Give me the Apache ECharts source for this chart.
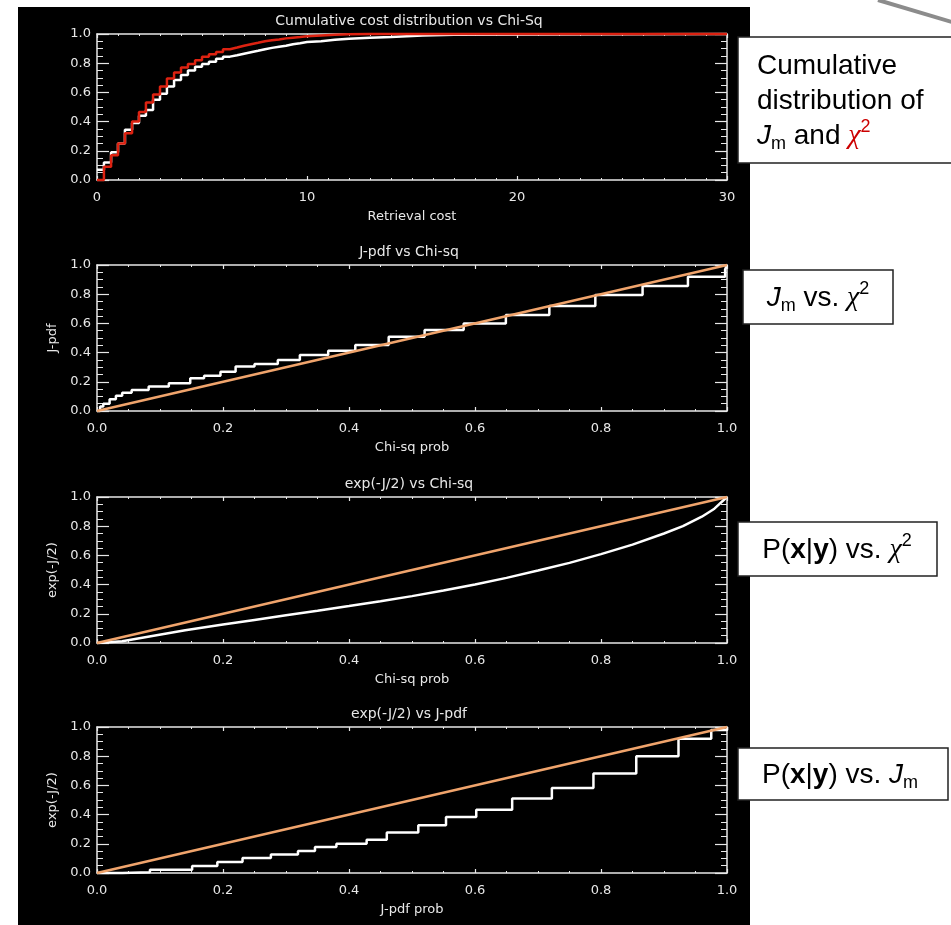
<!DOCTYPE html>
<html>
<head>
<meta charset="utf-8">
<script src="https://cdn.jsdelivr.net/npm/echarts/dist/echarts.min.js"></script>
<style>
html, body { margin: 0; padding: 0; background: #fff; }
#main { width: 951px; height: 925px; }
</style>
</head>
<body>
<div id="main"></div>
<script>
// panel 1: cumulative distributions vs retrieval cost
var costBins = [0, 0.33, 0.67, 1, 1.33, 1.67, 2, 2.33, 2.67, 3, 3.33, 3.67, 4, 4.33, 4.67, 5, 5.33, 5.67, 6, 6.33, 6.67, 7, 7.33, 7.67, 8, 8.33, 8.67, 9, 9.33, 9.67, 10, 10.67, 11.33, 12, 13, 14, 15.5, 17, 30];
var chiCum = [0, 0.09, 0.17, 0.25, 0.32, 0.40, 0.465, 0.53, 0.585, 0.64, 0.695, 0.737, 0.77, 0.795, 0.82, 0.845, 0.862, 0.877, 0.895, 0.907, 0.92, 0.93, 0.94, 0.95, 0.957, 0.963, 0.97, 0.975, 0.98, 0.985, 0.99, 0.995, 0.998, 1, 1, 1, 1, 1, 1];
var jCum = [0.07, 0.12, 0.19, 0.25, 0.345, 0.39, 0.44, 0.48, 0.55, 0.59, 0.64, 0.685, 0.72, 0.75, 0.775, 0.795, 0.81, 0.83, 0.845, 0.855, 0.865, 0.875, 0.885, 0.895, 0.905, 0.913, 0.92, 0.93, 0.937, 0.945, 0.95, 0.96, 0.968, 0.975, 0.98, 0.99, 0.995, 1, 1];

// panel 2: J-pdf vs Chi-sq
var chiProbA = [0, 0.005, 0.01, 0.02, 0.03, 0.04, 0.055, 0.082, 0.114, 0.148, 0.17, 0.196, 0.22, 0.25, 0.287, 0.322, 0.367, 0.41, 0.463, 0.52, 0.582, 0.649, 0.718, 0.791, 0.866, 0.938, 0.997, 1.0];
var jPdfA = [0, 0.03, 0.05, 0.08, 0.105, 0.125, 0.144, 0.167, 0.19, 0.224, 0.242, 0.269, 0.304, 0.322, 0.35, 0.384, 0.413, 0.452, 0.509, 0.555, 0.60, 0.657, 0.719, 0.795, 0.856, 0.92, 0.97, 1.0];

// panel 3: exp(-J/2) vs Chi-sq
var chiProbB = [0, 0.04, 0.09, 0.14, 0.2, 0.25, 0.3, 0.35, 0.4, 0.45, 0.5, 0.55, 0.6, 0.65, 0.7, 0.75, 0.8, 0.85, 0.9, 0.93, 0.96, 0.98, 1.0];
var expJB = [0, 0.012, 0.05, 0.087, 0.126, 0.158, 0.19, 0.221, 0.253, 0.286, 0.321, 0.359, 0.401, 0.446, 0.496, 0.549, 0.609, 0.674, 0.75, 0.80, 0.865, 0.92, 1.0];

// panel 4: exp(-J/2) vs J-pdf
var jPdfProb = [0, 0.04, 0.084, 0.151, 0.191, 0.231, 0.276, 0.319, 0.346, 0.38, 0.428, 0.46, 0.51, 0.554, 0.602, 0.659, 0.722, 0.788, 0.856, 0.923, 0.975, 1.0];
var expJC = [0, 0.005, 0.023, 0.048, 0.075, 0.103, 0.126, 0.151, 0.178, 0.2, 0.228, 0.278, 0.327, 0.384, 0.434, 0.51, 0.582, 0.681, 0.8, 0.92, 0.98, 1.0];

// 1:1 reference line
var diagX = [0, 1];
var diagY = [0, 1];

var titles = ['Cumulative cost distribution vs Chi-Sq', 'J-pdf vs Chi-sq', 'exp(-J/2) vs Chi-sq', 'exp(-J/2) vs J-pdf'];
var xNames = ['Retrieval cost', 'Chi-sq prob', 'Chi-sq prob', 'J-pdf prob'];
var yNames = ['', 'J-pdf', 'exp(-J/2)', 'exp(-J/2)'];

var gridTops = [34, 265, 497, 727];
var gridLeft = 97, gridW = 630, gridH = 146;
var fg = '#e8e8e8';
var font = 'DejaVu Sans';

function zip(xs, ys) {
    var out = [];
    for (var i = 0; i < xs.length; i++) out.push([xs[i], ys[i]]);
    return out;
}

function xAxisPair(gi, max, interval, minor, name, fmt) {
    var base = {
        gridIndex: gi, type: 'value', min: 0, max: max, interval: interval,
        axisLine: {show: true, onZero: false, lineStyle: {color: fg, width: 1.5}},
        axisTick: {show: true, inside: true, length: 4, lineStyle: {color: fg, width: 1.2}},
        minorTick: {show: true, splitNumber: minor, length: 2, lineStyle: {color: fg, width: 1}},
        splitLine: {show: false}
    };
    var bottom = Object.assign({}, base, {
        position: 'bottom',
        axisLabel: {color: fg, fontFamily: font, fontSize: 13, margin: 11, formatter: fmt},
        name: name, nameLocation: 'middle', nameGap: 30,
        nameTextStyle: {color: fg, fontFamily: font, fontSize: 13}
    });
    var top = Object.assign({}, base, {position: 'top', axisLabel: {show: false}});
    return [bottom, top];
}

function yAxisPair(gi, name) {
    var base = {
        gridIndex: gi, type: 'value', min: 0, max: 1, interval: 0.2,
        axisLine: {show: true, onZero: false, lineStyle: {color: fg, width: 1.5}},
        axisTick: {show: true, inside: true, length: 12, lineStyle: {color: fg, width: 1.2}},
        minorTick: {show: true, splitNumber: 4, length: 6, lineStyle: {color: fg, width: 1}},
        splitLine: {show: false}
    };
    var left = Object.assign({}, base, {
        position: 'left',
        axisLabel: {color: fg, fontFamily: font, fontSize: 13, margin: 6, formatter: function (v) { return v.toFixed(1); }},
        name: name, nameLocation: 'middle', nameGap: 34,
        nameTextStyle: {color: fg, fontFamily: font, fontSize: 13}
    });
    var right = Object.assign({}, base, {position: 'right', axisLabel: {show: false}});
    return [left, right];
}

var grids = [], xAxes = [], yAxes = [];
for (var g = 0; g < 4; g++) {
    grids.push({left: gridLeft, top: gridTops[g], width: gridW, height: gridH, containLabel: false});
    var xs = g === 0
        ? xAxisPair(0, 30, 10, 10, xNames[0], function (v) { return String(v); })
        : xAxisPair(g, 1, 0.2, 4, xNames[g], function (v) { return v.toFixed(1); });
    xAxes = xAxes.concat(xs);
    yAxes = yAxes.concat(yAxisPair(g, yNames[g]));
}

function line(gi, data, color, step) {
    return {
        type: 'line', xAxisIndex: gi * 2, yAxisIndex: gi * 2, data: data,
        step: step || false, symbol: 'none', clip: false,
        lineStyle: {color: color, width: 2.5}
    };
}

var orange = '#f0a46c';
var series = [
    line(0, zip(costBins, jCum), '#ffffff', 'end'),
    line(0, zip(costBins, chiCum), '#dd2211', 'end'),
    line(1, zip(chiProbA, jPdfA), '#ffffff', 'end'),
    line(1, zip(diagX, diagY), orange),
    line(2, zip(chiProbB, expJB), '#ffffff'),
    line(2, zip(diagX, diagY), orange),
    line(3, zip(jPdfProb, expJC), '#ffffff', 'end'),
    line(3, zip(diagX, diagY), orange)
];

var graphics = [
    {type: 'rect', z: -100, shape: {x: 18, y: 7, width: 732, height: 930}, style: {fill: '#000'}},
    {type: 'line', shape: {x1: 878, y1: 0, x2: 962, y2: 25}, style: {stroke: '#8c8c8c', lineWidth: 4}}
];
for (var t = 0; t < 4; t++) {
    graphics.push({
        type: 'text', x: gridLeft + gridW / 2 - 3, y: gridTops[t] - 13,
        style: {text: titles[t], fill: fg, fontFamily: font, fontSize: 14, align: 'center', verticalAlign: 'middle'}
    });
}

var rich = {
    n: {fontSize: 28, fontFamily: 'Liberation Sans', fill: '#000', lineHeight: 35},
    i: {fontSize: 28, fontFamily: 'Liberation Sans', fontStyle: 'italic', fill: '#000', lineHeight: 35},
    b: {fontSize: 28, fontFamily: 'Liberation Sans', fontWeight: 'bold', fill: '#000', lineHeight: 35},
    sub: {fontSize: 18, fontFamily: 'Liberation Sans', fill: '#000', lineHeight: 14, verticalAlign: 'bottom'},
    chi: {fontSize: 28, fontFamily: 'Liberation Serif', fontStyle: 'italic', fill: '#000', lineHeight: 35},
    sup: {fontSize: 18, fontFamily: 'Liberation Sans', fill: '#000', lineHeight: 28, verticalAlign: 'top'},
    chiR: {fontSize: 28, fontFamily: 'Liberation Serif', fontStyle: 'italic', fill: '#cc0000', lineHeight: 35},
    supR: {fontSize: 18, fontFamily: 'Liberation Sans', fill: '#cc0000', lineHeight: 28, verticalAlign: 'top'}
};

var boxes = [
    {x: 738, y: 37, w: 230, h: 126, tx: 757, align: 'left',
     text: '{n|Cumulative}\n{n|distribution of}\n{i|J}{sub|m}{n| and }{chiR|χ}{supR|2}'},
    {x: 743, y: 270, w: 150, h: 54, tx: 818, align: 'center',
     text: '{i|J}{sub|m}{n| vs. }{chi|χ}{sup|2}'},
    {x: 738, y: 522, w: 199, h: 54, tx: 837, align: 'center',
     text: '{n|P(}{b|x}{n||}{b|y}{n|) vs. }{chi|χ}{sup|2}'},
    {x: 738, y: 748, w: 210, h: 52, tx: 840, align: 'center',
     text: '{n|P(}{b|x}{n||}{b|y}{n|) vs. }{i|J}{sub|m}'}
];
boxes.forEach(function (b) {
    graphics.push({type: 'rect', z: 10, shape: {x: b.x, y: b.y, width: b.w, height: b.h},
        style: {fill: '#fff', stroke: '#222', lineWidth: 1.5}});
    graphics.push({type: 'text', z: 11, x: b.tx, y: b.y + b.h / 2 + 1,
        style: {text: b.text, rich: rich, align: b.align, verticalAlign: 'middle'}});
});

var chart = echarts.init(document.getElementById('main'));
chart.setOption({
    animation: false,
    backgroundColor: '#ffffff',
    grid: grids,
    xAxis: xAxes,
    yAxis: yAxes,
    series: series,
    graphic: graphics
});
</script>
</body>
</html>
